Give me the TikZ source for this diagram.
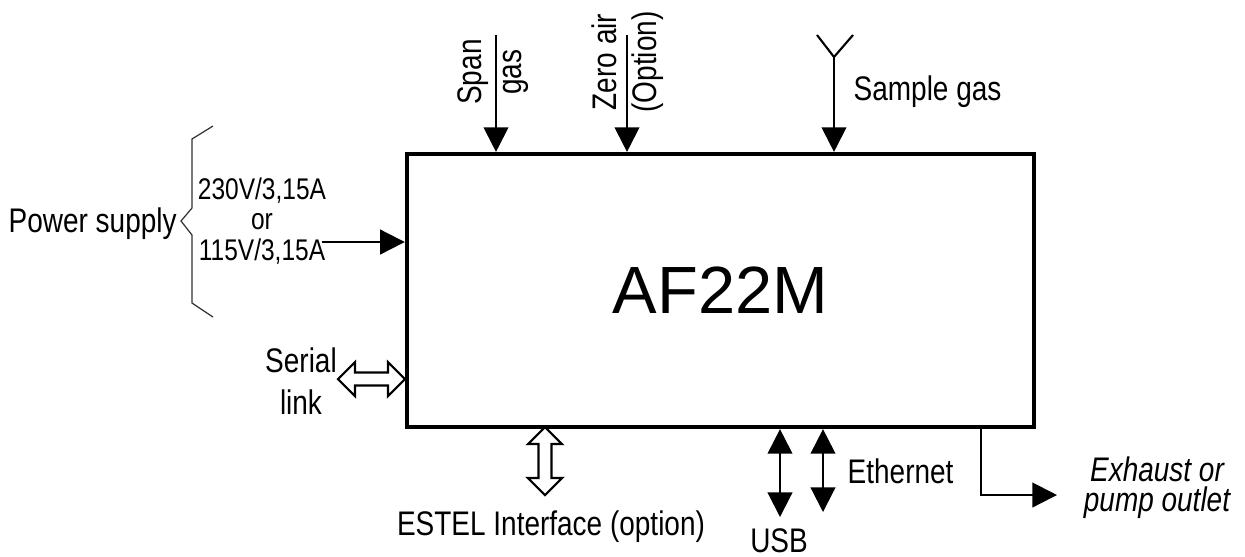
\documentclass[tikz,border=0pt]{standalone}
\usepackage{fontspec}
\setmainfont{Liberation Sans}[FakeStretch=0.82]
\newfontfamily\bigfont{Liberation Sans}
\usetikzlibrary{arrows.meta,calc}
\begin{document}
\begin{tikzpicture}[x=0.01cm,y=-0.01cm,
  lbl/.style={inner sep=0pt, font=\fontsize{9.7pt}{11.4pt}\selectfont},
  arr/.style={line width=0.6pt, -{Triangle[length=7pt,width=7pt]}},
  darr/.style={line width=0.6pt, {Triangle[length=7pt,width=7pt]}-{Triangle[length=7pt,width=7pt]}},
  hollow/.style={line width=0.6pt, fill=white, line join=miter},
  brace/.style={line width=0.35pt, draw=black!80},
  mainbox/.style={draw, line width=1.14pt, inner sep=0pt, minimum width=6.27cm, minimum height=2.73cm, font=\bigfont\fontsize{19pt}{19pt}\selectfont}]
\useasboundingbox (0,0) rectangle (1245,556);
\node[mainbox] (box) at (720.5,290.5) {AF22M};
% top inputs
\coordinate (spanin) at (496,35);
\draw[arr] (spanin) -- (spanin |- box.north);
\node[lbl, rotate=90, align=center] (spanlbl) at (493,72) {Span\\gas};
\coordinate (zeroin) at (627,35);
\draw[arr] (zeroin) -- (zeroin |- box.north);
\node[lbl, rotate=90, align=center] (zerolbl) at (628,62) {Zero air\\(Option)};
\coordinate (samplein) at (834,57);
\coordinate (yl) at (817,35);
\coordinate (yr) at (853,35);
\draw[line width=0.6pt] (yl) -- (samplein) -- (yr);
\draw[arr] (samplein) -- (samplein |- box.north);
\node[lbl, anchor=base west] (samplelbl) at (853,100) {Sample gas};
% power
\node[lbl, anchor=base west] (pslbl) at (8,232) {Power supply};
\node[inner sep=0pt, align=center, font=\fontsize{8.5pt}{8.7pt}\selectfont] (pvlbl) at (262,221) {230V/3,15A\\or\\115V/3,15A};
\coordinate (powerin) at (322,242);
\draw[arr] (powerin) -- (powerin -| box.west);
\draw[brace] (213,126) -- (192,139) -- (192,208) -- (181,221) -- (192,235) -- (192,303) -- (213,317);
% serial
\node[lbl, align=center, font=\fontsize{9.7pt}{12pt}\selectfont] (seriallbl) at (301,381) {Serial\\link};
\coordinate (serialout) at (338,379);
\draw[hollow] (serialout) -- ++(17,-17) -- ++(0,10.5) -- ++(33,0) -- ++(0,-10.5) -- ++(17,17) -- ++(-17,17) -- ++(0,-10.5) -- ++(-33,0) -- ++(0,10.5) -- cycle;
% estel
\coordinate (estelout) at (545,495);
\draw[hollow] (estelout) -- ++(-17,-17) -- ++(10.5,0) -- ++(0,-34) -- ++(-10.5,0) -- ++(17,-17) -- ++(17,17) -- ++(-10.5,0) -- ++(0,34) -- ++(10.5,0) -- cycle;
\node[lbl, anchor=base] (estellbl) at (551,535) {ESTEL Interface (option)};
% usb / ethernet
\coordinate (usbout) at (780,517);
\draw[darr] (usbout |- box.south) -- (usbout);
\node[lbl, anchor=base] (usblbl) at (779,552) {USB};
\coordinate (ethout) at (823,512);
\draw[darr] (ethout |- box.south) -- (ethout);
\node[lbl, anchor=base west] (ethlbl) at (847,483) {Ethernet};
% exhaust
\coordinate (exhcorner) at (981,495);
\coordinate (exhout) at (1057,495);
\draw[arr] (exhcorner |- box.south) -- (exhcorner) -- (exhout);
\node[inner sep=0pt, align=center, font=\itshape\fontsize{9.7pt}{8.6pt}\selectfont] (exhlbl) at (1157,488) {Exhaust or\\pump outlet};
\end{tikzpicture}
\end{document}
